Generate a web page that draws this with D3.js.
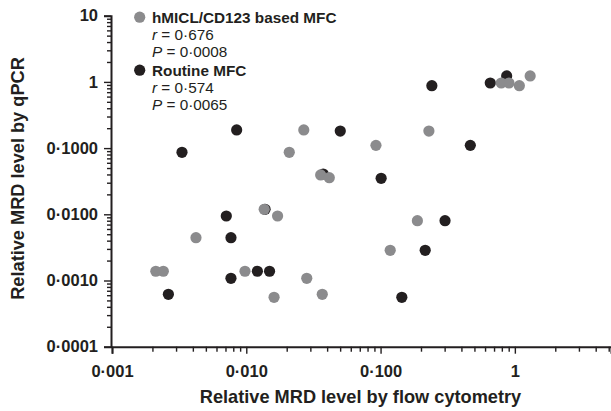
<!DOCTYPE html>
<html><head><meta charset="utf-8">
<script src="https://cdn.jsdelivr.net/npm/d3@7"></script>
<style>
html,body{margin:0;padding:0;background:#fff;}
svg{display:block;font-family:"Liberation Sans",Arial,sans-serif;}
</style></head>
<body>
<svg id="chart" width="611" height="411"></svg>
<script>
// Data
const hmiclX = [0.00212, 0.00241, 0.00422, 0.00978, 0.0136, 0.0171, 0.0161, 0.0209, 0.0268, 0.0282, 0.0358, 0.0415, 0.0368, 0.0924, 0.118, 0.188, 0.229, 0.792, 0.904, 1.08, 1.30];
const hmiclY = [0.00138, 0.00138, 0.00443, 0.00138, 0.0119, 0.00942, 0.000557, 0.0864, 0.188, 0.00108, 0.0393, 0.0357, 0.000619, 0.110, 0.00286, 0.0080, 0.181, 0.962, 0.962, 0.876, 1.23];
const routineX = [0.00263, 0.00332, 0.0071, 0.00769, 0.00769, 0.00848, 0.0121, 0.0138, 0.0149, 0.0374, 0.0501, 0.101, 0.144, 0.215, 0.241, 0.302, 0.466, 0.656, 0.869];
const routineY = [0.000619, 0.0864, 0.00942, 0.00443, 0.00108, 0.188, 0.00138, 0.0119, 0.00138, 0.0406, 0.181, 0.035, 0.000557, 0.00286, 0.876, 0.0080, 0.110, 0.962, 1.23];
const xTickValues = [0.001, 0.01, 0.1, 1];
const xTickLabels = ["0·001", "0·010", "0·100", "1"];
const yTickValues = [0.0001, 0.001, 0.01, 0.1, 1, 10];
const yTickLabels = ["0·0001", "0·0010", "0·0100", "0·1000", "1", "10"];
const legendNames = ["hMICL/CD123 based MFC", "Routine MFC"];
const legendR = ["0·676", "0·574"];
const legendP = ["0·0008", "0·0065"];

const svg = d3.select("#chart");
const x = d3.scaleLog().domain([0.001, 5.2]).range([112, 611]);
const y = d3.scaleLog().domain([0.0001, 10]).range([346.7, 15.7]);

// minor ticks
function minorTicks(lo, hi){
  const out=[];
  for(let e=Math.floor(Math.log10(lo)); e<=Math.ceil(Math.log10(hi)); e++){
    for(let m=2;m<=9;m++){ const v=m*Math.pow(10,e); if(v>=lo && v<=hi*1.0001) out.push(v);}
  }
  return out;
}
const axisColor = "#231f20";
const ff = "'Liberation Sans',Arial,sans-serif";
// Y axis
const yAxisG = svg.append("g").attr("transform","translate(111,0)");
yAxisG.call(d3.axisLeft(y).tickValues(yTickValues).tickSize(7).tickFormat((d,i)=>yTickLabels[i]));
yAxisG.append("g").call(d3.axisLeft(y).tickValues(minorTicks(0.0001,10)).tickSize(4).tickFormat(""));
// X axis
const xAxisG = svg.append("g").attr("transform","translate(0,346.7)");
xAxisG.call(d3.axisBottom(x).tickValues(xTickValues).tickSize(7).tickFormat((d,i)=>xTickLabels[i]));
xAxisG.append("g").call(d3.axisBottom(x).tickValues(minorTicks(0.001,5.2)).tickSize(5).tickFormat(""));

svg.selectAll(".domain").attr("stroke",axisColor).attr("stroke-width",2);
svg.selectAll(".tick line").attr("stroke",axisColor).attr("stroke-width",1.4);
svg.selectAll("g g .domain").remove();
yAxisG.selectAll(".tick text").attr("font-size",16.5).attr("font-weight","bold").attr("fill",axisColor).attr("x",-13).attr("font-family",ff);
xAxisG.selectAll(".tick text").attr("font-size",16.5).attr("font-weight","bold").attr("fill",axisColor).attr("y",19).attr("font-family",ff);

// Axis titles
svg.append("text").attr("x",360.5).attr("y",403).attr("text-anchor","middle")
  .attr("font-size",18.2).attr("font-weight","bold").attr("fill",axisColor)
  .text("Relative MRD level by flow cytometry");
svg.append("text").attr("transform","translate(24,178.5) rotate(-90)").attr("text-anchor","middle")
  .attr("font-size",18.2).attr("font-weight","bold").attr("fill",axisColor)
  .text("Relative MRD level by qPCR");

const gray = "#8b8b8d", black = "#231f20";
// points: routine first, then hMICL on top
svg.append("g").selectAll("circle").data(routineX).join("circle")
  .attr("cx",(d)=>x(d)).attr("cy",(d,i)=>y(routineY[i])).attr("r",5.6).attr("fill",black);
svg.append("g").selectAll("circle").data(hmiclX).join("circle")
  .attr("cx",(d)=>x(d)).attr("cy",(d,i)=>y(hmiclY[i])).attr("r",5.6).attr("fill",gray);

// Legend
const lg = svg.append("g");
const colors=[gray,black];
const baseY=[23,76];
legendNames.forEach((name,i)=>{
  lg.append("circle").attr("cx",139.7).attr("cy",baseY[i]-5.8).attr("r",5.6).attr("fill",colors[i]);
  lg.append("text").attr("x",152).attr("y",baseY[i]).attr("font-size",15.3).attr("font-weight","bold").attr("fill",axisColor).text(name);
  const t1=lg.append("text").attr("x",152).attr("y",baseY[i]+17).attr("font-size",15.3).attr("fill",axisColor);
  t1.append("tspan").attr("font-style","italic").text("r");
  t1.append("tspan").text(" = "+legendR[i]);
  const t2=lg.append("text").attr("x",152).attr("y",baseY[i]+33.5).attr("font-size",15.3).attr("fill",axisColor);
  t2.append("tspan").attr("font-style","italic").text("P");
  t2.append("tspan").text(" = "+legendP[i]);
});
</script>
</body></html>
